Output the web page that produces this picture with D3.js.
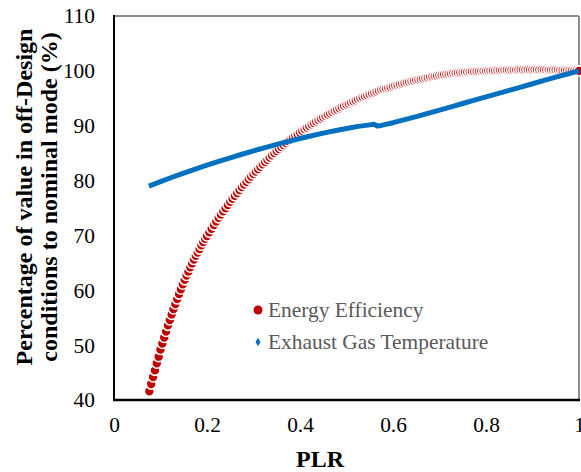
<!DOCTYPE html>
<html>
<head>
<meta charset="utf-8">
<script src="https://cdn.jsdelivr.net/npm/d3@7"></script>
<style>
  html, body { margin: 0; padding: 0; background: #fff; overflow: hidden; }
  svg { display: block; }
  text { font-family: "Liberation Serif", "Times New Roman", serif; }
</style>
</head>
<body>
<svg id="chart" width="581" height="472"></svg>
<script>
// ---- data ----
const seriesNames = ["Energy Efficiency", "Exhaust Gas Temperature"];
const xTickValues = [0, 0.2, 0.4, 0.6, 0.8, 1];
const yTickValues = [40, 50, 60, 70, 80, 90, 100, 110];

const effPLR = [
  0.076,0.080,0.084,0.088,0.092,0.096,0.100,0.104,0.108,0.112,0.116,0.120,0.124,0.128,0.132,0.136,
  0.140,0.144,0.148,0.152,0.156,0.160,0.164,0.168,0.172,0.176,0.180,0.184,0.188,0.192,0.196,
  0.200,0.205,0.210,0.215,0.220,0.225,0.230,0.235,0.240,0.245,0.250,0.255,0.260,0.265,0.270,0.275,
  0.280,0.285,0.290,0.295,0.300,0.305,0.310,0.315,0.320,0.325,0.330,0.335,0.340,0.345,0.350,
  0.355,0.360,0.365,0.370,0.375,0.380,0.385,0.390,0.395,0.400,0.405,0.410,0.415,0.420,0.425,
  0.430,0.435,0.440,0.445,0.450,0.455,0.460,0.465,0.470,0.475,0.480,0.485,0.490,0.495,0.500,
  0.505,0.510,0.515,0.520,0.525,0.530,0.535,0.540,0.545,0.550,0.555,0.560,0.565,0.570,0.575,
  0.580,0.585,0.590,0.595,0.600,0.605,0.610,0.615,0.620,0.625,0.630,0.635,0.640,0.645,0.650,
  0.655,0.660,0.665,0.670,0.675,0.680,0.685,0.690,0.695,0.700,0.705,0.710,0.715,0.720,0.725,
  0.730,0.735,0.740,0.745,0.750,0.755,0.760,0.765,0.770,0.775,0.780,0.785,0.790,0.795,0.800,
  0.805,0.810,0.815,0.820,0.825,0.830,0.835,0.840,0.845,0.850,0.855,0.860,0.865,0.870,0.875,
  0.880,0.885,0.890,0.895,0.900,0.905,0.910,0.915,0.920,0.925,0.930,0.935,0.940,0.945,0.950,
  0.955,0.960,0.965,0.970,0.975,0.980,0.985,0.990,0.995,1.000
];
const effValue = [
  41.6,42.9,44.2,45.4,46.7,47.9,49.2,50.3,51.4,52.5,53.6,54.6,55.6,56.6,57.5,58.4,
  59.3,60.2,61.1,61.9,62.7,63.4,64.2,64.9,65.6,66.3,66.9,67.5,68.2,68.8,69.4,
  69.9,70.56,71.22,71.88,72.54,73.2,73.79,74.38,74.97,75.56,76.15,76.68,77.21,77.74,78.27,78.8,
  79.28,79.76,80.24,80.72,81.2,81.64,82.08,82.52,82.96,83.4,83.8,84.2,84.6,85.0,85.4,
  85.76,86.12,86.48,86.84,87.2,87.52,87.84,88.16,88.48,88.8,89.09,89.38,89.67,89.96,90.25,
  90.51,90.77,91.03,91.29,91.55,91.79,92.03,92.27,92.51,92.75,92.97,93.19,93.41,93.63,93.85,
  94.05,94.25,94.45,94.65,94.85,95.03,95.21,95.39,95.57,95.75,95.91,96.07,96.23,96.39,96.55,
  96.68,96.81,96.94,97.07,97.2,97.32,97.44,97.56,97.68,97.8,97.91,98.02,98.13,98.24,98.35,
  98.44,98.53,98.62,98.71,98.8,98.88,98.96,99.04,99.12,99.2,99.26,99.32,99.38,99.44,99.5,
  99.55,99.6,99.65,99.7,99.75,99.78,99.81,99.84,99.87,99.9,99.92,99.94,99.96,99.98,100.0,
  100.02,100.04,100.06,100.08,100.1,100.11,100.12,100.13,100.14,100.15,100.16,100.17,100.18,100.19,100.2,
  100.2,100.2,100.2,100.2,100.2,100.2,100.2,100.2,100.2,100.2,100.19,100.18,100.17,100.16,100.15,
  100.14,100.13,100.12,100.11,100.1,100.08,100.06,100.04,100.02,100.0
];

const tempPLR = [
  0.075,0.100,0.125,0.150,0.175,0.200,0.225,0.250,0.275,0.300,0.325,0.350,0.375,0.400,0.425,
  0.450,0.475,0.500,0.525,0.550,0.560,0.566,0.575,0.600,0.625,0.650,0.675,0.700,0.725,0.750,
  0.775,0.800,0.825,0.850,0.875,0.900,0.925,0.950,0.975,1.000
];
const tempValue = [
  79.0,79.8,80.6,81.35,82.1,82.8,83.5,84.15,84.8,85.42,86.02,86.6,87.15,87.67,88.17,
  88.64,89.09,89.5,89.88,90.15,90.25,89.95,90.05,90.55,91.1,91.65,92.25,92.85,93.45,94.05,
  94.65,95.25,95.85,96.45,97.05,97.65,98.25,98.85,99.42,100.0
];

// ---- layout ----
const svg = d3.select("#chart");
const FONT = "Liberation Serif, Times New Roman, serif";
const x = d3.scaleLinear().domain([0, 1]).range([114, 579]);
const y = d3.scaleLinear().domain([40, 110]).range([400, 16]);

const RED = "#C00000", BLUE = "#0070C0";

// frame (top / right gray)
svg.append("line").attr("x1", x(0)).attr("x2", x(1)).attr("y1", y(110)).attr("y2", y(110))
  .attr("stroke", "#8c8c8c").attr("stroke-width", 2);
svg.append("line").attr("x1", x(1)).attr("x2", x(1)).attr("y1", y(110)).attr("y2", y(40))
  .attr("stroke", "#8c8c8c").attr("stroke-width", 2);

// series: energy efficiency (dense circles)
const effData = effPLR.map((p, i) => ({p, v: effValue[i]}));
svg.append("g").selectAll("circle").data(effData).join("circle")
  .attr("cx", d => x(d.p)).attr("cy", d => y(d.v))
  .attr("r", 5)
  .attr("fill", RED).attr("stroke", "#fff").attr("stroke-width", 1.6);

// series: exhaust gas temperature (dense markers -> thick band)
const tempData = tempPLR.map((p, i) => ({p, v: tempValue[i]}));
svg.append("path").datum(tempData)
  .attr("d", d3.line().x(d => x(d.p)).y(d => y(d.v)))
  .attr("fill", "none").attr("stroke", BLUE).attr("stroke-width", 5)
  .attr("stroke-linejoin", "round");

// axes lines (black left & bottom)
svg.append("line").attr("x1", x(0)).attr("x2", x(0)).attr("y1", y(110) - 1).attr("y2", y(40) + 1)
  .attr("stroke", "#000").attr("stroke-width", 2);
svg.append("line").attr("x1", x(0) - 1).attr("x2", x(1) + 1).attr("y1", y(40)).attr("y2", y(40))
  .attr("stroke", "#000").attr("stroke-width", 2.5);

// tick labels via d3 axes
const xAxis = svg.append("g").attr("transform", `translate(0,${y(40)})`)
  .call(d3.axisBottom(x).tickValues(xTickValues).tickSize(0).tickPadding(17)
    .tickFormat(d3.format("~g")));
xAxis.select(".domain").remove();
xAxis.attr("font-family", null);
xAxis.selectAll("text").style("font-family", FONT).style("font-size", "21.4px").attr("fill", "#000");

const yAxis = svg.append("g").attr("transform", `translate(${x(0)},0)`)
  .call(d3.axisLeft(y).tickValues(yTickValues).tickSize(0).tickPadding(19));
yAxis.select(".domain").remove();
yAxis.attr("font-family", null);
yAxis.selectAll("text").style("font-family", FONT).style("font-size", "21.4px").attr("fill", "#000");

// axis titles
svg.append("text").attr("x", 320).attr("y", 467).attr("text-anchor", "middle")
  .style("font-family", FONT).style("font-size", "24px").style("font-weight", "bold").text("PLR");
const yt = svg.append("g").attr("transform", "translate(0,197) rotate(-90)");
yt.append("text").attr("x", 0).attr("y", 32).attr("text-anchor", "middle")
  .style("font-family", FONT).style("font-size", "24px").style("font-weight", "bold")
  .text("Percentage of value in off-Design");
yt.append("text").attr("x", 0).attr("y", 57).attr("text-anchor", "middle")
  .style("font-family", FONT).style("font-size", "24px").style("font-weight", "bold")
  .text("conditions to nominal mode (%)");

// legend
const lg = svg.append("g");
lg.append("circle").attr("cx", 258).attr("cy", 310).attr("r", 4.5).attr("fill", RED);
lg.append("path").attr("d", d3.symbol(d3.symbolDiamond, 22)())
  .attr("transform", "translate(258,342)").attr("fill", BLUE);
lg.selectAll("text").data(seriesNames).join("text")
  .attr("x", 268).attr("y", (d, i) => 317 + i * 32)
  .style("font-family", FONT).style("font-size", "21.4px").attr("fill", "#595959").text(d => d);
</script>
</body>
</html>
